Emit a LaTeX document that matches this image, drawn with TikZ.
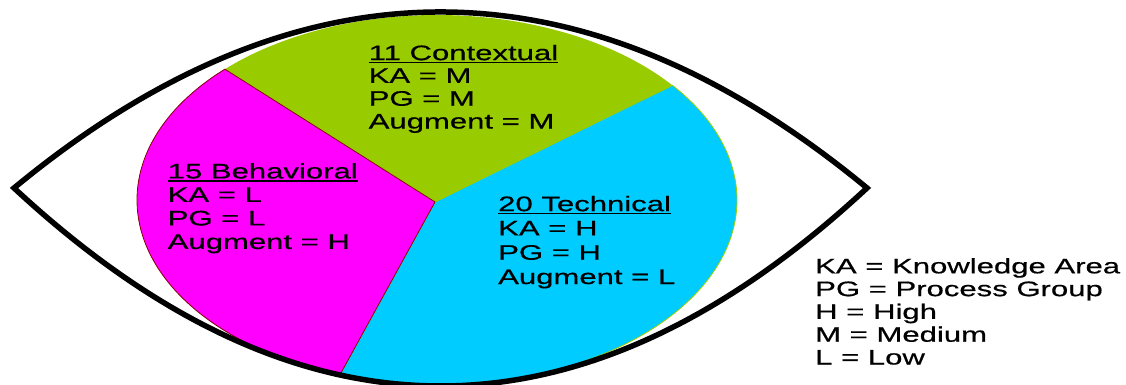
\documentclass[tikz,border=0pt]{standalone}
\usepackage{fontspec}
\setmainfont{Liberation Sans}[FakeStretch=1.48,FakeBold=0.6]
\usepackage{xcolor}
\usepackage{tikz}
\usetikzlibrary{calc}
\definecolor{ctxgreen}{HTML}{99CC00}
\definecolor{behmagenta}{HTML}{FF00FF}
\definecolor{techcyan}{HTML}{00CCFF}
\definecolor{behedge}{HTML}{800000}
\newcommand{\slicehead}[1]{\setbox0\hbox{#1}\rlap{\rule[-3.2pt]{\wd0}{1.8pt}}\box0}
\tikzset{
  slicetext/.style={anchor=north west,inner sep=0pt,align=left,font=\fontsize{21}{#1}\selectfont},
  slicetext/.default=23.5,
  eyeline/.style={line width=5.5pt,line join=miter}
}

\begin{document}
\begin{tikzpicture}[x=1pt,y=1pt]
\useasboundingbox (0,0) rectangle (1126,385);
\coordinate (ctr) at (437,185);
\coordinate (hub) at (435,183);
\coordinate (eyeL) at (14,197);
\coordinate (eyeR) at (867,197);

\filldraw[fill=techcyan,draw=ctxgreen,line width=0.8pt] (hub) -- ($(ctr)+(251.1:300 and 185)$) arc[start angle=251.1,end angle=398.3,x radius=300,y radius=185] -- cycle;
\fill[ctxgreen] (hub) -- ($(ctr)+(38.3:300 and 185)$) arc[start angle=38.3,end angle=135,x radius=300,y radius=185] -- cycle;
\filldraw[fill=behmagenta,draw=behedge,line width=0.8pt] (hub) -- ($(ctr)+(135:300 and 185)$) arc[start angle=135,end angle=251.1,x radius=300,y radius=185] -- cycle;

\draw[eyeline] (eyeL) .. controls (298.3,431.7) and (582.7,431.7) .. (eyeR) .. controls (582.7,-67) and (298.3,-67) .. (eyeL) -- cycle;

\node[slicetext=22.8] (contextual) at (368.5,340.3) {\slicehead{11 Contextual}\\KA = M\\PG = M\\Augment = M};
\node[slicetext] (behavioral) at (167.5,222) {\slicehead{15 Behavioral}\\KA = L\\PG = L\\Augment = H};
\node[slicetext=24.3] (technical) at (498,189.3) {\slicehead{20 Technical}\\KA = H\\PG = H\\Augment = L};
\node[slicetext=22.8] (legend) at (815,127.1) {KA = Knowledge Area\\PG = Process Group\\H = High\\M = Medium\\L = Low};
\end{tikzpicture}
\end{document}
